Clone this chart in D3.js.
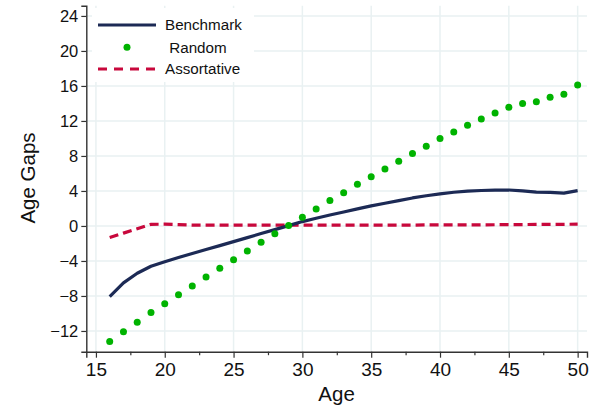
<!DOCTYPE html>
<html>
<head>
<meta charset="utf-8">
<script src="https://cdn.jsdelivr.net/npm/d3@7"></script>
<style>
  html, body { margin: 0; padding: 0; background: #fff; }
  svg { display: block; font-family: "Liberation Sans", Arial, Helvetica, sans-serif; }
</style>
</head>
<body>
<svg id="chart" width="605" height="415"></svg>
<script>
const ages = d3.range(16, 51);
const benchmark = [-8.07, -6.5, -5.4, -4.6, -4.08, -3.6, -3.15, -2.7, -2.25, -1.79,
  -1.33, -0.87, -0.42, 0.04, 0.5, 0.88, 1.25, 1.6, 1.95, 2.29,
  2.6, 2.9, 3.2, 3.45, 3.66, 3.85, 3.97, 4.05, 4.1, 4.11,
  4.0, 3.86, 3.84, 3.75, 4.04];
const random = [-13.2, -12.1, -11.0, -9.9, -8.9, -7.85, -6.86, -5.83, -4.84, -3.85,
  -2.86, -1.87, -0.88, 0.05, 1.0, 1.94, 2.9, 3.8, 4.76, 5.63,
  6.5, 7.39, 8.27, 9.1, 9.98, 10.74, 11.5, 12.23, 12.9, 13.56,
  13.98, 14.2, 14.7, 15.05, 16.1];
const assortative = [-1.33, -0.82, -0.32, 0.19, 0.2, 0.15, 0.1, 0.1, 0.1, 0.1,
  0.1, 0.1, 0.1, 0.1, 0.1, 0.1, 0.1, 0.1, 0.1, 0.1,
  0.1, 0.1, 0.1, 0.12, 0.12, 0.12, 0.12, 0.13, 0.14, 0.15,
  0.16, 0.17, 0.18, 0.19, 0.2];
const xTicks = [15, 20, 25, 30, 35, 40, 45, 50];
const xMinorTicks = [17.5, 22.5, 27.5, 32.5, 37.5, 42.5, 47.5];
const yTicks = [-12, -8, -4, 0, 4, 8, 12, 16, 20, 24];
const seriesNames = ["Benchmark", "Random", "Assortative"];
const colors = { Benchmark: "#1c2a55", Random: "#00b300", Assortative: "#c8083c" };

const svg = d3.select("#chart");
const x = d3.scaleLinear().domain([14.3, 50.68]).range([86.3, 587]);
const y = d3.scaleLinear().domain([-14.37, 25.17]).range([351.7, 5.7]);

const gridColor = "#e9f1f2";
// grid
svg.append("g").selectAll("line").data(yTicks).join("line")
  .attr("x1", x.range()[0]).attr("x2", x.range()[1])
  .attr("y1", d => y(d)).attr("y2", d => y(d))
  .attr("stroke", gridColor).attr("stroke-width", 1.5);
svg.append("g").selectAll("line").data(xTicks).join("line")
  .attr("x1", d => x(d)).attr("x2", d => x(d))
  .attr("y1", y.range()[0]).attr("y2", y.range()[1])
  .attr("stroke", gridColor).attr("stroke-width", 1.5);

// legend background (covers gridlines)
svg.append("rect").attr("x", 92).attr("y", 8).attr("width", 162).attr("height", 74).attr("fill", "#fff");

// axes
const xAxis = svg.append("g").attr("transform", `translate(0,${y.range()[0]})`)
  .call(d3.axisBottom(x).tickValues(xTicks).tickSize(6).tickPadding(5).tickFormat(d3.format("d")));
const xMinor = svg.append("g").attr("transform", `translate(0,${y.range()[0]})`)
  .call(d3.axisBottom(x).tickValues(xMinorTicks).tickSize(3.5).tickFormat(""));
xMinor.select(".domain").remove();
const yAxis = svg.append("g").attr("transform", `translate(${x.range()[0]},0)`)
  .call(d3.axisLeft(y).tickValues(yTicks).tickSize(5).tickPadding(3)
    .tickFormat(d => d < 0 ? "\u2212" + Math.abs(d) : d));
[xAxis, xMinor, yAxis].forEach(g => {
  g.selectAll(".domain").attr("stroke", "#333").attr("stroke-width", 1.4);
  g.selectAll(".tick line").attr("stroke", "#333").attr("stroke-width", 1.2);
  g.selectAll("text").attr("fill", "#111").attr("font-family", "Liberation Sans, Arial, sans-serif");
});
xAxis.selectAll("text").attr("font-size", 19);
yAxis.selectAll("text").attr("font-size", 16.5);

// axis titles
svg.append("text").attr("x", 336.6).attr("y", 401).attr("text-anchor", "middle")
  .attr("font-size", 20.5).attr("fill", "#111").text("Age");
svg.append("text").attr("transform", "translate(35,178) rotate(-90)").attr("text-anchor", "middle")
  .attr("font-size", 20.5).attr("fill", "#111").text("Age Gaps");

// series
const line = vals => d3.line().x((d, i) => x(ages[i])).y(d => y(d))(vals);
svg.append("path").attr("d", line(assortative)).attr("fill", "none")
  .attr("stroke", colors.Assortative).attr("stroke-width", 3.2).attr("stroke-dasharray", "9,5");
svg.append("path").attr("d", line(benchmark)).attr("fill", "none")
  .attr("stroke", colors.Benchmark).attr("stroke-width", 3.2).attr("stroke-linejoin", "round");
svg.append("g").selectAll("circle").data(random).join("circle")
  .attr("cx", (d, i) => x(ages[i])).attr("cy", d => y(d)).attr("r", 3.5)
  .attr("fill", colors.Random);

// legend
const lg = svg.append("g");
lg.append("line").attr("x1", 98).attr("x2", 156).attr("y1", 25).attr("y2", 25)
  .attr("stroke", colors.Benchmark).attr("stroke-width", 3.2);
lg.append("circle").attr("cx", 127).attr("cy", 47.3).attr("r", 3.5).attr("fill", colors.Random);
lg.append("line").attr("x1", 98).attr("x2", 156).attr("y1", 69).attr("y2", 69)
  .attr("stroke", colors.Assortative).attr("stroke-width", 3.2).attr("stroke-dasharray", "9,7");
const legendText = [[165, 25, "Benchmark"], [165, 47.3, "\u00a0Random"], [165, 69, "Assortative"]];
lg.selectAll("text").data(legendText).join("text")
  .attr("x", d => d[0]).attr("y", d => d[1]).attr("dy", "0.36em")
  .attr("font-size", 15.2).attr("fill", "#111").attr("xml:space", "preserve")
  .text(d => d[2]);
</script>
</body>
</html>
